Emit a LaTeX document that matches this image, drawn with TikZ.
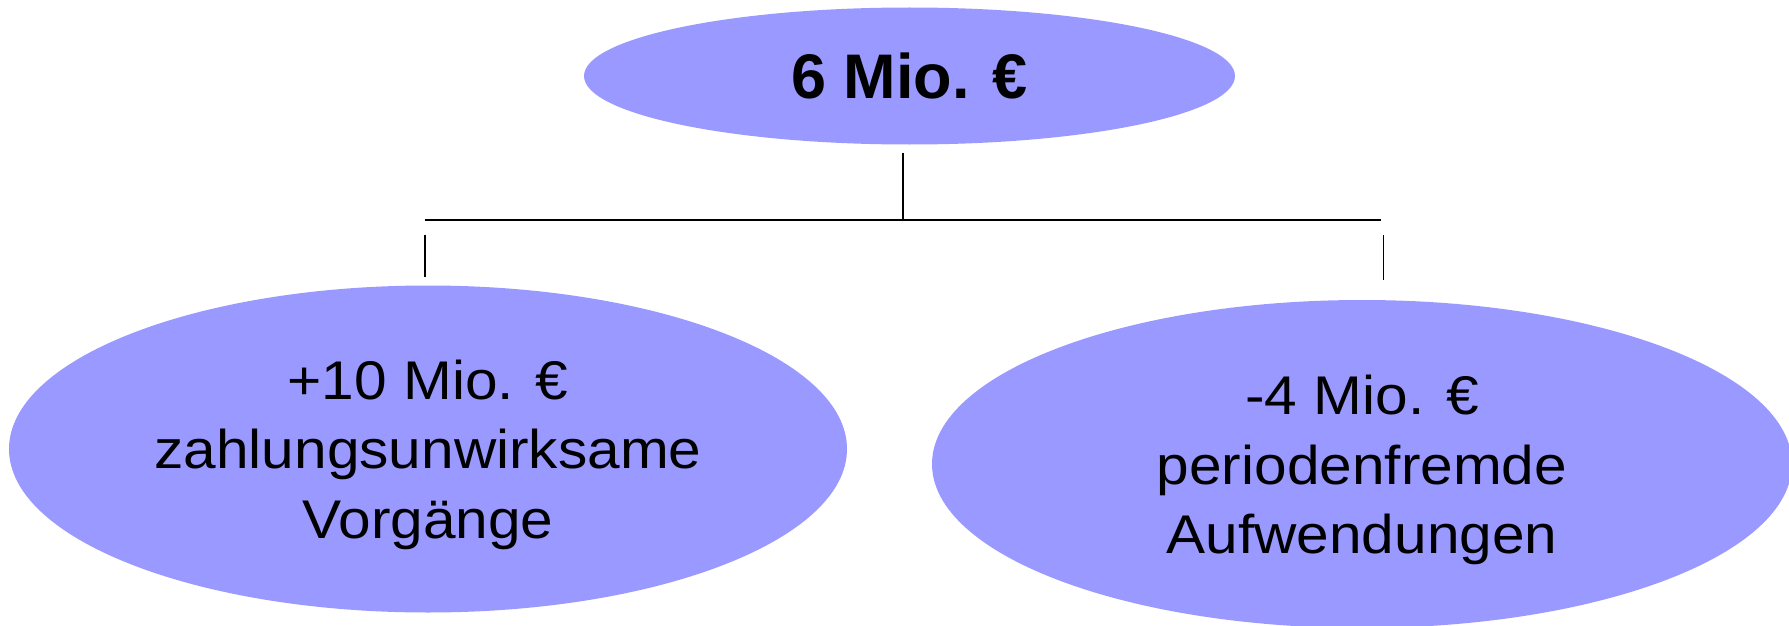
\documentclass[tikz,border=0pt]{standalone}
\usepackage{fontspec}
\setmainfont{Liberation Sans}
\newfontfamily\widesans[FakeStretch=1.075]{Liberation Sans}
\usetikzlibrary{shapes.geometric}
\definecolor{bubble}{RGB}{153,153,255}
\tikzset{
  bubble/.style={ellipse, fill=bubble, draw=none, inner sep=0pt, align=center},
  bubbletext/.style={inner sep=0pt, align=center,
      font=\widesans\fontsize{54.5}{69.5}\selectfont},
  linkline/.style={draw=black, line width=1.8pt},
}
\begin{document}
\begin{tikzpicture}[x=1pt, y=-1pt]
\useasboundingbox (0,0) rectangle (1789,626);
\node[bubble, minimum width=651pt, minimum height=137pt,
      font=\fontsize{63}{75}\selectfont\bfseries] (top) at (909.5,76) {6 Mio. €};
\node[bubble, minimum width=838pt, minimum height=327pt,
      label={[bubbletext, yshift=-5.5pt]center:{+10 Mio. €\\zahlungsunwirksame\\Vorgänge}}]
      (left) at (428,449) {};
\node[bubble, minimum width=860pt, minimum height=328pt,
      label={[bubbletext, yshift=-6pt]center:{-4 Mio. €\\periodenfremde\\Aufwendungen}}]
      (right) at (1362,464) {};
\coordinate (topstub) at (902.6,152.7);
\coordinate (junction) at (902.6,220);
\coordinate (barL) at (424.6,220);
\coordinate (barR) at (1381,220);
\coordinate (lstubA) at (424.6,234.5);
\coordinate (lstubB) at (424.6,277);
\coordinate (rstubA) at (1383.4,235);
\coordinate (rstubB) at (1383.4,280);
\draw[linkline] (topstub) -- (junction);
\draw[linkline] (barL) -- (barR);
\draw[linkline] (lstubA) -- (lstubB);
\draw[linkline] (rstubA) -- (rstubB);
\end{tikzpicture}
\end{document}
